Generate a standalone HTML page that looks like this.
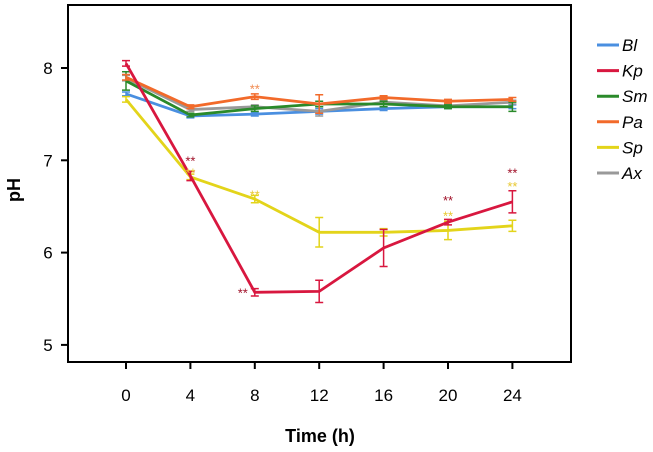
<!DOCTYPE html>
<html><head><meta charset="utf-8"><style>
body{margin:0;background:#fff;}
svg{display:block;font-family:"Liberation Sans",sans-serif;}
</style></head><body>
<svg id="chart" width="653" height="452">
<rect x="68" y="5" width="503" height="357" fill="none" stroke="#000" stroke-width="2"/>
<g id="axes"></g>
<g id="series"></g>
<text x="15" y="190" font-size="18" font-weight="bold" transform="rotate(-90 15 190)" text-anchor="middle" dominant-baseline="middle">pH</text>
<text x="320" y="442" font-size="18" font-weight="bold" text-anchor="middle">Time (h)</text>
<g id="legend"></g>
</svg>
<script>
const times=[0,4,8,12,16,20,24];
const xTicks=[0,4,8,12,16,20,24];
const yTicks=[5,6,7,8];
const seriesNames=["Bl","Kp","Sm","Pa","Sp","Ax"];
const seriesColors=["#4a8fe0","#d8173f","#2a8a2a","#f26a2a","#e3d41a","#999999"];
const bl=[7.72,7.48,7.50,7.53,7.56,7.58,7.58];
const kp=[8.05,6.83,5.57,5.58,6.05,6.33,6.55];
const sm=[7.86,7.49,7.56,7.61,7.61,7.58,7.58];
const pa=[7.90,7.58,7.69,7.61,7.68,7.64,7.66];
const sp=[7.66,6.82,6.58,6.22,6.22,6.24,6.29];
const ax=[7.89,7.55,7.58,7.53,7.63,7.59,7.63];
const blErr=[0.02,0.02,0.02,0.03,0.02,0.02,0.02];
const kpErr=[0.03,0.05,0.04,0.12,0.2,0.03,0.12];
const smErr=[0.1,0.02,0.03,0.03,0.03,0.02,0.05];
const paErr=[0.03,0.02,0.03,0.1,0.02,0.02,0.02];
const spErr=[0.03,0.03,0.04,0.16,0.04,0.1,0.06];
const axErr=[0.03,0.02,0.02,0.05,0.02,0.02,0.02];
const allVals=[bl,kp,sm,pa,sp,ax];
const allErr=[blErr,kpErr,smErr,paErr,spErr,axErr];
const starTimes=[4,8,20,24,4,8,20,24,8];
const starVals=[7.0,5.57,6.57,6.87,6.87,6.63,6.4,6.72,7.78];
const starSeries=[1,1,1,1,4,4,4,4,3];
const X=t=>126+t*16.1;
const Y=v=>68+(8-v)*92.3;
const NS="http://www.w3.org/2000/svg";
function mk(tag,attrs,parent){const e=document.createElementNS(NS,tag);for(const k in attrs)e.setAttribute(k,attrs[k]);parent.appendChild(e);return e;}
const axes=document.getElementById('axes');
xTicks.forEach(t=>{
 const l=mk('line',{x1:X(t),x2:X(t),y1:362,y2:369,stroke:'#000','stroke-width':2},axes);
 
 
 const tx=mk('text',{x:X(t),y:401,'font-size':17,'text-anchor':'middle'},axes);tx.textContent=t;
 
 
});
yTicks.forEach(v=>{
 const l=mk('line',{x1:61,x2:68,y1:Y(v),y2:Y(v),stroke:'#000','stroke-width':2},axes);
 
 
 const tx=mk('text',{x:48,y:Y(v)+6,'font-size':17,'text-anchor':'middle'},axes);tx.textContent=v;
 
 
});
const sg=document.getElementById('series');
const order=[0,5,2,3,4,1];
order.forEach(i=>{
 const g=mk('g',{},sg);
 
 
 const c=seriesColors[i];
 allVals[i].forEach((v,j)=>{
  const x=X(times[j]),e=allErr[i][j];
  const eb=mk('path',{d:`M${x},${Y(v+e)}V${Y(v-e)}M${x-4},${Y(v+e)}h8M${x-4},${Y(v-e)}h8`,stroke:c,'stroke-width':1.5,fill:'none'},g);
  
  
 });
 const pl=mk('polyline',{points:allVals[i].map((v,j)=>X(times[j])+','+Y(v)).join(' '),fill:'none',stroke:c,'stroke-width':2.8},g);
 
 
});
const starColors={1:'#a01028',4:'#e8c830',3:'#f08a50'};
starTimes.forEach((t,k)=>{
 const s=mk('text',{x:X(t)+(t===8&&starSeries[k]===1?-12:0),y:Y(starVals[k])+5,'font-size':13,'text-anchor':'middle',fill:starColors[starSeries[k]]},sg);
 s.textContent='**';
 
 
});
const lg=document.getElementById('legend');
seriesNames.forEach((n,i)=>{
 const y=45+i*25.6;
 const g=mk('g',{},lg);
 
 
 mk('line',{x1:597,x2:619,y1:y,y2:y,stroke:seriesColors[i],'stroke-width':3},g);
 const t=mk('text',{x:622,y:y+6,'font-size':17,'font-style':'italic'},g);t.textContent=n;
});
</script>
</body></html>
